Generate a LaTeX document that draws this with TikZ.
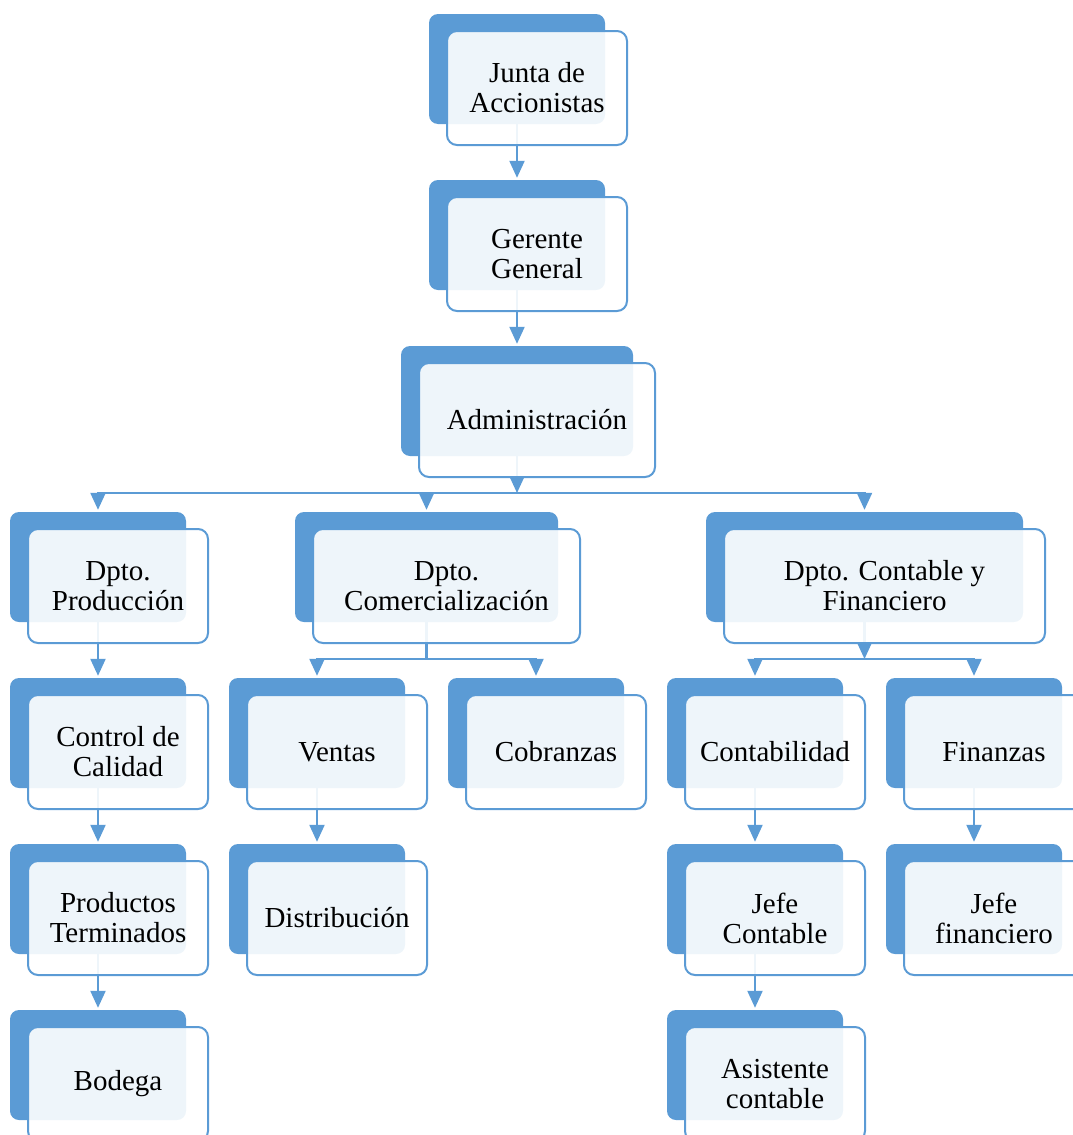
\documentclass[tikz,border=0pt]{standalone}
\usepackage{fontspec}
\setmainfont{Liberation Serif}
\usetikzlibrary{arrows.meta}
\definecolor{bleu}{HTML}{5B9BD5}
\begin{document}
\begin{tikzpicture}[x=1pt,y=-1pt]
% Styles (MODIFIABLES)
\tikzstyle{fleche}=[-{Triangle[width=15pt,length=17pt]},line width=2.2pt,draw=bleu,shorten >=2pt]
\tikzstyle{trait}=[-,line width=2.2pt,draw=bleu]
\tikzstyle{fond}=[fill=bleu,rounded corners=9pt,minimum width=176pt,minimum height=110pt,inner sep=0pt]
\tikzstyle{cadre}=[draw=bleu,line width=2pt,fill=white,fill opacity=0.9,text opacity=1,rounded corners=10pt,minimum width=180pt,minimum height=114pt,inner sep=0pt,align=center,font=\fontsize{29}{30}\selectfont]
% Dimensions (MODIFIABLES)
\def\DistanceInterNiveaux{166}
\def\DecalageX{20}
\def\DecalageY{19}
% Dimensions calculées (NON MODIFIABLES)
\def\NiveauA{69+(0)*\DistanceInterNiveaux}
\def\NiveauB{69+(1)*\DistanceInterNiveaux}
\def\NiveauC{69+(2)*\DistanceInterNiveaux}
\def\NiveauD{69+(3)*\DistanceInterNiveaux}
\def\NiveauE{69+(4)*\DistanceInterNiveaux}
\def\NiveauF{69+(5)*\DistanceInterNiveaux}
\def\NiveauG{69+(6)*\DistanceInterNiveaux}
\useasboundingbox (0,0) rectangle (1072,1135);
% Fonds (MODIFIABLES : Styles et abscisses)
\node[fond] (Junta) at (517,{\NiveauA}) {};
\node[fond] (Gerente) at (517,{\NiveauB}) {};
\node[fond,minimum width=232pt] (Admin) at (517,{\NiveauC}) {};
\node[fond] (Prod) at (98,{\NiveauD}) {};
\node[fond,minimum width=263pt] (Comer) at (426.5,{\NiveauD}) {};
\node[fond,minimum width=317pt] (Conta) at (864.5,{\NiveauD}) {};
\node[fond] (Calidad) at (98,{\NiveauE}) {};
\node[fond] (Ventas) at (317,{\NiveauE}) {};
\node[fond] (Cobranzas) at (536,{\NiveauE}) {};
\node[fond] (Contab) at (755,{\NiveauE}) {};
\node[fond] (Finanzas) at (974,{\NiveauE}) {};
\node[fond] (Terminados) at (98,{\NiveauF}) {};
\node[fond] (Distrib) at (317,{\NiveauF}) {};
\node[fond] (JefeC) at (755,{\NiveauF}) {};
\node[fond] (JefeF) at (974,{\NiveauF}) {};
\node[fond] (Bodega) at (98,{\NiveauG}) {};
\node[fond] (Asist) at (755,{\NiveauG}) {};
% Points de raccordement
\coordinate (busA) at (517,493);
\coordinate (busC) at (426.5,659);
\coordinate (busD) at (864.5,659);
% Arcs (MODIFIABLES : Styles)
\draw[fleche] (Junta.south)--(Gerente.north);
\draw[fleche] (Gerente.south)--(Admin.north);
\draw[fleche,shorten >=0pt] (Admin.south)--(busA);
\draw[fleche] (busA)-|(Prod.north);
\draw[fleche] (busA)-|(Comer.north);
\draw[fleche] (busA)-|(Conta.north);
\draw[trait] (Comer.south)--(busC);
\draw[fleche] (busC)-|(Ventas.north);
\draw[fleche] (busC)-|(Cobranzas.north);
\draw[fleche,shorten >=0pt] (Conta.south)--(busD);
\draw[fleche] (busD)-|(Contab.north);
\draw[fleche] (busD)-|(Finanzas.north);
\draw[fleche] (Prod.south)--(Calidad.north);
\draw[fleche] (Calidad.south)--(Terminados.north);
\draw[fleche] (Terminados.south)--(Bodega.north);
\draw[fleche] (Ventas.south)--(Distrib.north);
\draw[fleche] (Contab.south)--(JefeC.north);
\draw[fleche] (JefeC.south)--(Asist.north);
\draw[fleche] (Finanzas.south)--(JefeF.north);
% Cadres (MODIFIABLES : Styles et textes)
\node[cadre] (JuntaT) at ([shift={(\DecalageX,\DecalageY)}]Junta.center) {Junta de\\Accionistas};
\node[cadre] (GerenteT) at ([shift={(\DecalageX,\DecalageY)}]Gerente.center) {Gerente\\General};
\node[cadre,minimum width=236pt] (AdminT) at ([shift={(\DecalageX,\DecalageY)}]Admin.center) {Administración};
\node[cadre] (ProdT) at ([shift={(\DecalageX,\DecalageY)}]Prod.center) {Dpto.\\Producción};
\node[cadre,minimum width=267pt] (ComerT) at ([shift={(\DecalageX,\DecalageY)}]Comer.center) {Dpto.\\Comercialización};
\node[cadre,minimum width=321pt] (ContaT) at ([shift={(\DecalageX,\DecalageY)}]Conta.center) {Dpto. Contable y\\Financiero};
\node[cadre] (CalidadT) at ([shift={(\DecalageX,\DecalageY)}]Calidad.center) {Control de\\Calidad};
\node[cadre] (VentasT) at ([shift={(\DecalageX,\DecalageY)}]Ventas.center) {Ventas};
\node[cadre] (CobranzasT) at ([shift={(\DecalageX,\DecalageY)}]Cobranzas.center) {Cobranzas};
\node[cadre] (ContabT) at ([shift={(\DecalageX,\DecalageY)}]Contab.center) {Contabilidad};
\node[cadre] (FinanzasT) at ([shift={(\DecalageX,\DecalageY)}]Finanzas.center) {Finanzas};
\node[cadre] (TerminadosT) at ([shift={(\DecalageX,\DecalageY)}]Terminados.center) {Productos\\Terminados};
\node[cadre] (DistribT) at ([shift={(\DecalageX,\DecalageY)}]Distrib.center) {Distribución};
\node[cadre] (JefeCT) at ([shift={(\DecalageX,\DecalageY)}]JefeC.center) {Jefe\\Contable};
\node[cadre] (JefeFT) at ([shift={(\DecalageX,\DecalageY)}]JefeF.center) {Jefe\\financiero};
\node[cadre] (BodegaT) at ([shift={(\DecalageX,\DecalageY)}]Bodega.center) {Bodega};
\node[cadre] (AsistT) at ([shift={(\DecalageX,\DecalageY)}]Asist.center) {Asistente\\contable};
\end{tikzpicture}
\end{document}
